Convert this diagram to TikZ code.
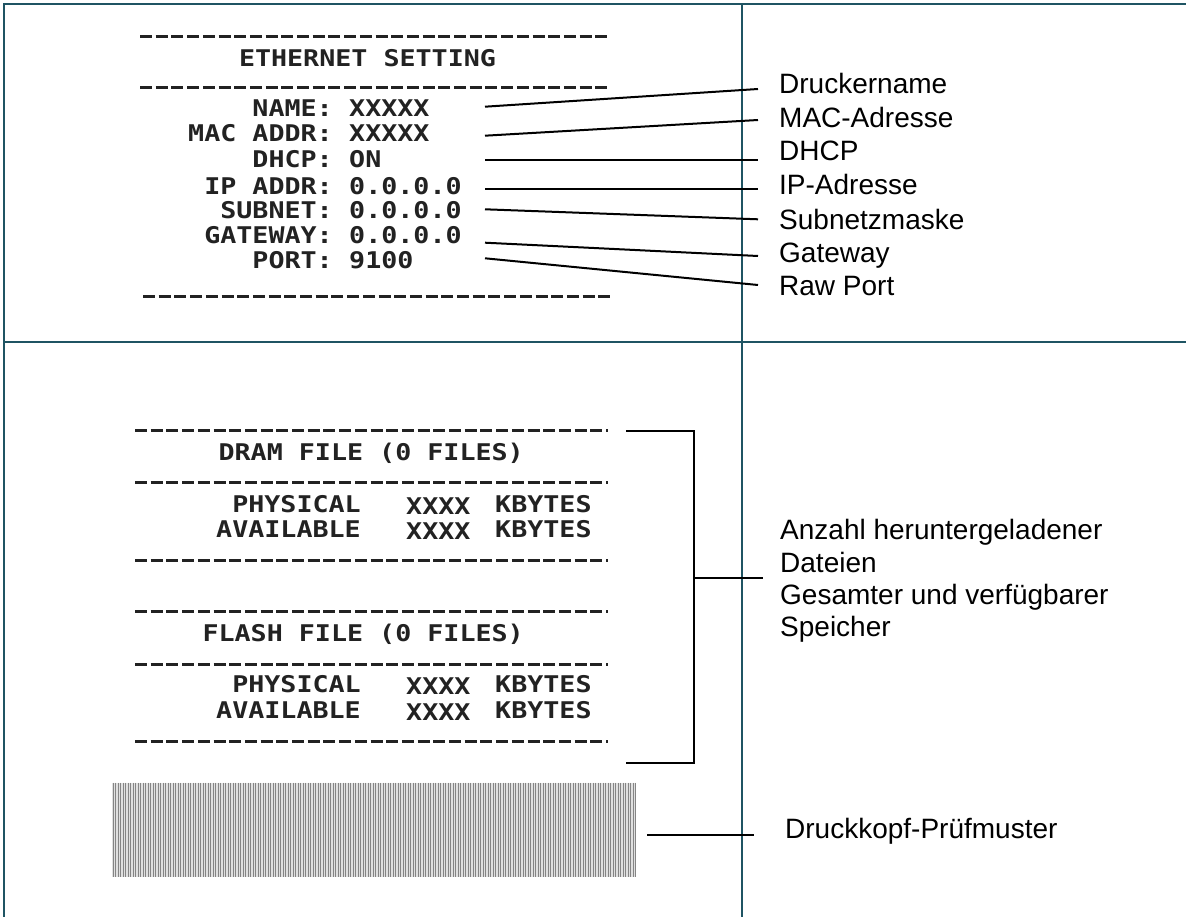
\documentclass[tikz,border=0pt]{standalone}
\usepackage{fontspec}
\setmainfont{Liberation Sans}
\newfontfamily\prfont[FakeStretch=1.16]{DejaVu Sans Mono}
\usetikzlibrary{positioning}
\definecolor{frame}{RGB}{31,84,99}
\definecolor{ink}{RGB}{34,34,34}

\begin{document}
\begin{tikzpicture}[x=1pt,y=-1pt,
    panel/.style={frame, line width=2.5pt},
    prt/.style={inner sep=0pt, text=ink, text height=0.73em, text depth=0pt, font=\prfont\bfseries\fontsize{23}{25}\selectfont},
    sep/.style={ink, line width=3pt, dash pattern=on 12pt off 3.7pt},
    tag/.style={anchor=west, inner xsep=21pt, inner ysep=0pt, text height=0.72em, text depth=0pt, font=\fontsize{28}{33}\selectfont},
    pointer/.style={line width=2pt}]
  \useasboundingbox (0,0) rectangle (1186,917);
  \draw[panel] (4,917) -- (4,4) -- (1186,4);
  \draw[panel] (4,342) -- (1186,342);
  \draw[panel] (742,4) -- (742,917);

  \draw[sep] (140,36.5) -- (610,36.5);
  \node[prt] (eth) at (367.5,62.7) {ETHERNET SETTING};
  \draw[sep] (140,87.5) -- (610,87.5);
  \foreach \k/\v/\y [count=\i] in {NAME/XXXXX/113, MAC ADDR/XXXXX/138, DHCP/ON/164, IP ADDR/0.0.0.0/190.7, SUBNET/0.0.0.0/215, GATEWAY/0.0.0.0/240, PORT/9100/265} {
    \node[prt, anchor=east] (k\i) at (333,\y) {\k:};
    \node[prt, anchor=west] (v\i) at (349,\y) {\v};
  }
  \draw[sep] (143,296.5) -- (612,296.5);

  \foreach \t/\y/\sy/\ey [count=\i] in {Druckername/90/106.7/89, MAC-Adresse/124/135.7/120, DHCP/157/160/160, IP-Adresse/191/189/189, Subnetzmaske/226/209.3/219.3, Gateway/259/242.7/256, Raw Port/292/258.3/285} {
    \node[tag] (l\i) at (758,\y) {\t};
    \coordinate (p\i) at (485,\sy);
    \draw[pointer] (p\i) -- ([yshift={(\y-\ey)*1pt}]l\i.west);
  }

  \foreach \y in {430.5,482.5,560.5,611.5,664.5,741.5}
    \draw[sep] (135,\y) -- (608,\y);
  \node[prt, anchor=east] (dram) at (524,456.7) {DRAM FILE (0 FILES)};
  \node[prt, anchor=east] (flash) at (524,637.7) {FLASH FILE (0 FILES)};
  \foreach \n/\y [count=\i] in {PHYSICAL/509, AVAILABLE/534, PHYSICAL/689.3, AVAILABLE/715} {
    \node[prt, anchor=east] (m\i) at (361,\y) {\n};
    \node[prt, anchor=west] (x\i) at (406,\y+1.5) {XXXX};
    \node[prt, anchor=west] (kb\i) at (495,\y) {KBYTES};
  }

  \coordinate (b1) at (626,431);
  \coordinate (b2) at (626,763);
  \coordinate (bm) at (694,578);
  \draw[pointer] (b1) -- ++(68,0) |- (b2);
  \node[anchor=west, inner xsep=17pt, align=left, font=\fontsize{28}{32.3}\selectfont] (mem) at (763,581)
    {Anzahl heruntergeladener\\Dateien\\Gesamter und verfügbarer\\Speicher};
  \draw[pointer] (bm) -- (bm -| mem.west);

  \fill[black!12] (112,782.7) rectangle (636,877.3);
  \foreach \x in {113,115.5,...,636}
    \draw[black!48, line width=1pt] (\x,782.7) -- (\x,877.3);
  \coordinate (hd) at (647,835);
  \node[tag, inner xsep=31pt] (ptest) at (754,835) {Druckkopf-Prüfmuster};
  \draw[pointer] (hd) -- (ptest.west);
\end{tikzpicture}
\end{document}
